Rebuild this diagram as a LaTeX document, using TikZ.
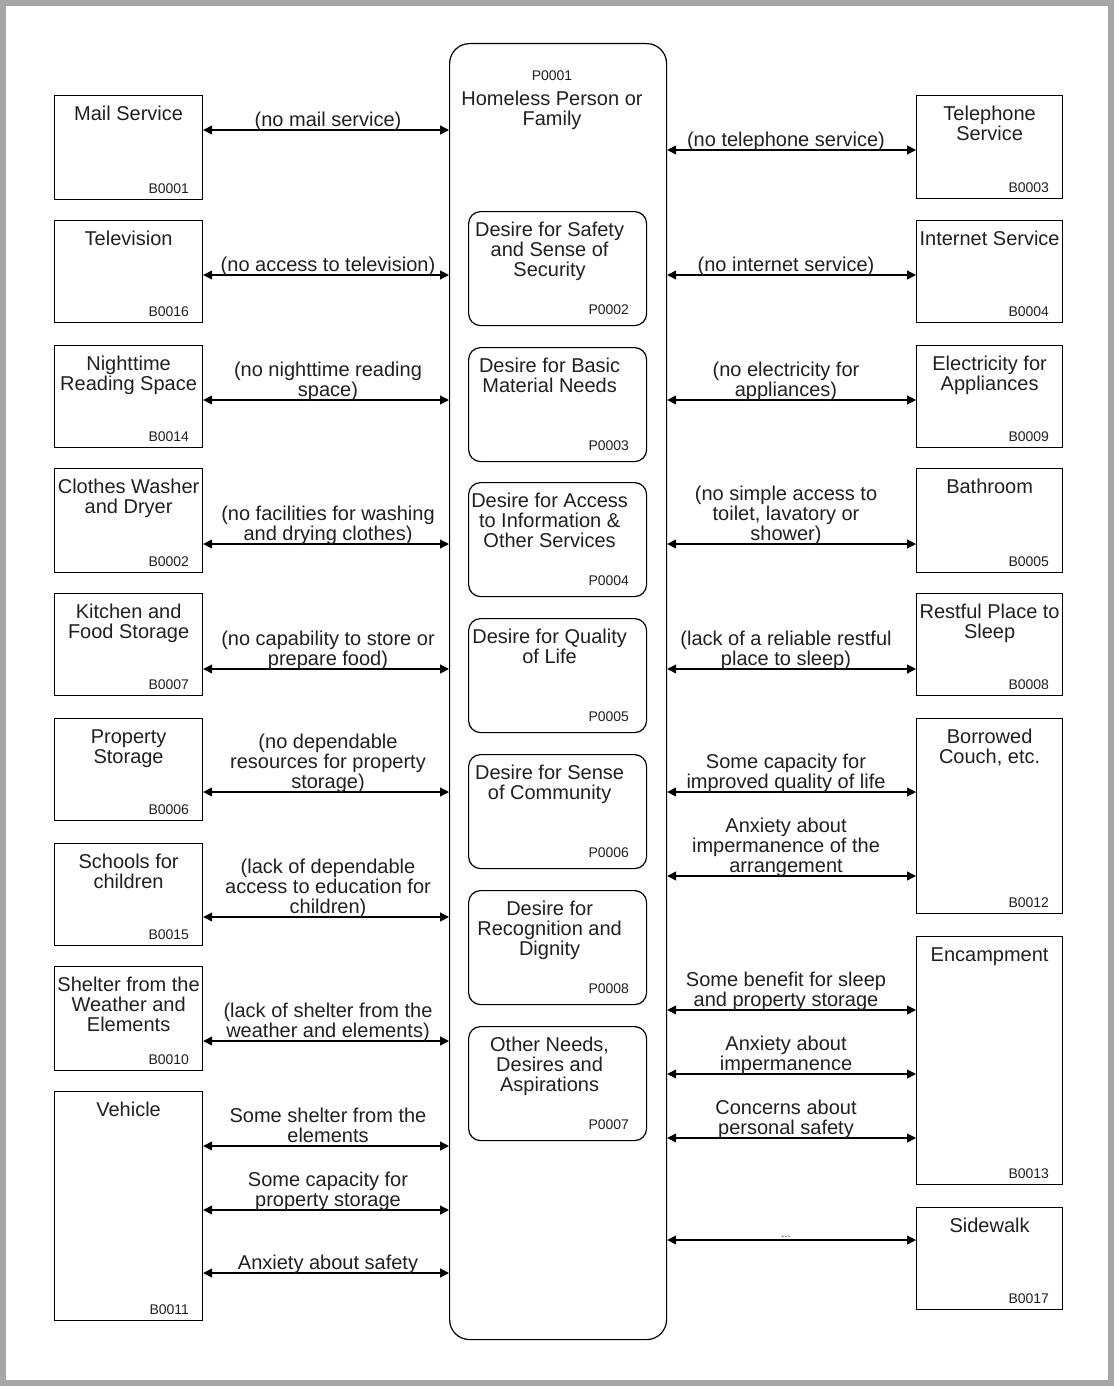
\documentclass[tikz,border=0pt]{standalone}
\usepackage{fontspec}
\setmainfont{Liberation Sans}
\usetikzlibrary{arrows.meta,calc}
\definecolor{bggrey}{HTML}{A6A6A6}
\definecolor{txt}{HTML}{202020}
\newcommand\topstrut{\rule{0pt}{15pt}}
\tikzset{
  box/.style={draw=black, line width=1.2pt, anchor=north west, inner sep=0pt, fill=white},
  rbox/.style={box, rounded corners=12pt, minimum width=178pt, minimum height=114pt},
  mainbox/.style={box, rounded corners=20pt},
  ttl/.style={font=\fontsize{20}{20}\selectfont, text=txt, align=center, anchor=north, inner sep=0pt},
  idl/.style={font=\fontsize{14}{14}\selectfont, text=txt, anchor=base east, inner sep=0pt},
  lab/.style={font=\fontsize{20}{20}\selectfont, text=txt, align=center, anchor=south, inner sep=0pt},
  arr/.style={{Triangle[length=9pt,width=9pt]}-{Triangle[length=9pt,width=9pt]}, line width=1.2pt, draw=black}
}
% name, x, top, width, height, title, id
\newcommand\mkbox[7]{%
  \node[box, minimum width=#4pt, minimum height=#5pt] (#1) at (#2,#3) {};
  \node[ttl] (#1-t) at ($(#1.north)+(0,10)$) {\topstrut#6};
  \node[idl] (#1-id) at ($(#1.south east)+(-14,-7)$) {#7};
}
% name, top, title, id
\newcommand\mkrbox[4]{%
  \node[rbox] (#1) at (468,#2) {};
  \node[ttl] (#1-t) at ($(#1.north)+(-8,10)$) {\topstrut#3};
  \node[idl] (#1-id) at ($(#1.south east)+(-18,-12)$) {#4};
}
% box, y, label name, text
\newcommand\larr[4]{%
  \draw[arr] (#1.east|-0,#2) -- (main.west|-0,#2);
  \node[lab] (#3) at (328,#2+3) {#4\strut};
}
\newcommand\rarr[4]{%
  \draw[arr] (main.east|-0,#2) -- (#1.west|-0,#2);
  \node[lab] (#3) at (786,#2+3) {#4\strut};
}
\begin{document}
\begin{tikzpicture}[x=1pt,y=-1pt]
\fill[bggrey] (0,0) rectangle (1114,1386);
\fill[white] (6,6) rectangle (1108,1380);
\useasboundingbox (0,0) rectangle (1114,1386);

% central box
\node[mainbox, minimum width=217pt, minimum height=1296pt] (main) at (449,43) {};
\node[idl, anchor=base] (main-id) at (552,80.5) {P0001};
\node[ttl] (main-t) at (552,90) {\topstrut Homeless Person or\\Family};

% inner boxes
\mkrbox{p2}{211}{Desire for Safety\\and Sense of\\Security}{P0002}
\mkrbox{p3}{347}{Desire for Basic\\Material Needs}{P0003}
\mkrbox{p4}{482}{Desire for Access\\to Information \&\\Other Services}{P0004}
\mkrbox{p5}{618}{Desire for Quality\\of Life}{P0005}
\mkrbox{p6}{754}{Desire for Sense\\of Community}{P0006}
\mkrbox{p8}{890}{Desire for\\Recognition and\\Dignity}{P0008}
\mkrbox{p7}{1026}{Other Needs,\\Desires and\\Aspirations}{P0007}

% left boxes
\mkbox{mail}{54}{95}{148}{104}{Mail Service}{B0001}
\mkbox{tv}{54}{220}{148}{102}{Television}{B0016}
\mkbox{night}{54}{345}{148}{102}{Nighttime\\Reading Space}{B0014}
\mkbox{wash}{54}{468}{148}{104}{Clothes Washer\\and Dryer}{B0002}
\mkbox{kitchen}{54}{593}{148}{102}{Kitchen and\\Food Storage}{B0007}
\mkbox{prop}{54}{718}{148}{102}{Property\\Storage}{B0006}
\mkbox{school}{54}{843}{148}{102}{Schools for\\children}{B0015}
\mkbox{shelter}{54}{966}{148}{104}{Shelter from the\\Weather and\\Elements}{B0010}
\mkbox{veh}{54}{1091}{148}{229}{Vehicle}{B0011}

% right boxes
\mkbox{tel}{916}{95}{146}{103}{Telephone\\Service}{B0003}
\mkbox{net}{916}{220}{146}{102}{Internet Service}{B0004}
\mkbox{elec}{916}{345}{146}{102}{Electricity for\\Appliances}{B0009}
\mkbox{bath}{916}{468}{146}{104}{Bathroom}{B0005}
\mkbox{rest}{916}{593}{146}{102}{Restful Place to\\Sleep}{B0008}
\mkbox{couch}{916}{718}{146}{195}{Borrowed\\Couch, etc.}{B0012}
\mkbox{camp}{916}{936}{146}{248}{Encampment}{B0013}
\mkbox{side}{916}{1207}{146}{102}{Sidewalk}{B0017}

% left connectors
\larr{mail}{130}{l1}{(no mail service)}
\larr{tv}{275}{l2}{(no access to television)}
\larr{night}{400}{l3}{(no nighttime reading\\space)}
\larr{wash}{544}{l4}{(no facilities for washing\\and drying clothes)}
\larr{kitchen}{669}{l5}{(no capability to store or\\prepare food)}
\larr{prop}{792}{l6}{(no dependable\\resources for property\\storage)}
\larr{school}{917}{l7}{(lack of dependable\\access to education for\\children)}
\larr{shelter}{1041}{l8}{(lack of shelter from the\\weather and elements)}
\larr{veh}{1146}{l9}{Some shelter from the\\elements}
\larr{veh}{1210}{l10}{Some capacity for\\property storage}
\larr{veh}{1273}{l11}{Anxiety about safety}

% right connectors
\rarr{tel}{150}{r1}{(no telephone service)}
\rarr{net}{275}{r2}{(no internet service)}
\rarr{elec}{400}{r3}{(no electricity for\\appliances)}
\rarr{bath}{544}{r4}{(no simple access to\\toilet, lavatory or\\shower)}
\rarr{rest}{669}{r5}{(lack of a reliable restful\\place to sleep)}
\rarr{couch}{792}{r6}{Some capacity for\\improved quality of life}
\rarr{couch}{876}{r7}{Anxiety about\\impermanence of the\\arrangement}
\rarr{camp}{1010}{r8}{Some benefit for sleep\\and property storage}
\rarr{camp}{1074}{r9}{Anxiety about\\impermanence}
\rarr{camp}{1138}{r10}{Concerns about\\personal safety}
\draw[arr] (main.east|-0,1240) -- (side.west|-0,1240);
\node[font=\fontsize{11}{11}\selectfont, text=txt, anchor=base, inner sep=0pt] (r11) at (786,1237) {...};
\end{tikzpicture}
\end{document}
